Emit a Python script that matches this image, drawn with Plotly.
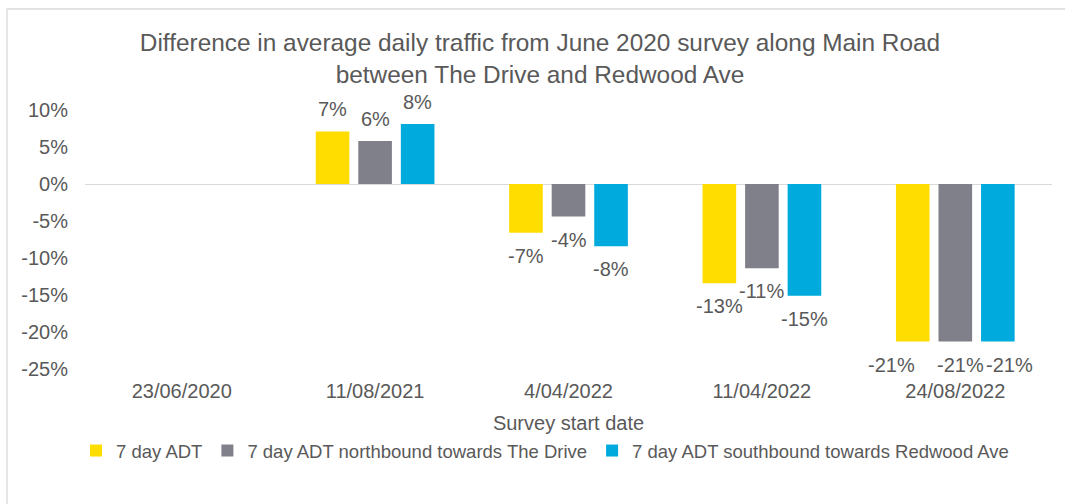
import plotly.graph_objects as go

categories = ["23/06/2020", "11/08/2021", "4/04/2022", "11/04/2022", "24/08/2022"]
series_names = [
    "7 day ADT",
    "7 day ADT northbound towards The Drive",
    "7 day ADT southbound towards Redwood Ave",
]
adt_total = [0, 7.1, -6.6, -13.4, -21.3]
adt_north = [0, 5.8, -4.4, -11.4, -21.3]
adt_south = [0, 8.1, -8.4, -15.1, -21.3]
colors = ["#FFDD00", "#80808A", "#00AADD"]

y_ticks = [10, 5, 0, -5, -10, -15, -20, -25]
y_tick_text = ["10%", "5%", "0%", "-5%", "-10%", "-15%", "-20%", "-25%"]

# label nudges (px) that mimic the reference's de-overlapped data labels
label_nudge = {(0, 4): -21, (1, 4): 5, (2, 4): 12}

FONT = "Liberation Sans, Arial, sans-serif"
TXT = "#595959"
FS = 20

L, R, T, B = 85, 13, 110, 135
W, H = 1065, 504
pw = W - L - R
ph = H - T - B
BARGAP, GROUPGAP = 0.34, 0.21
slot_px = pw / len(categories) * (1 - BARGAP) / 3

fig = go.Figure()
annotations = []
for si, (name, vals, col) in enumerate(zip(series_names, [adt_total, adt_north, adt_south], colors)):
    fig.add_trace(go.Bar(
        x=categories, y=vals, name=name,
        marker=dict(color=col, line=dict(width=0)),
        hoverinfo="x+y",
    ))
    for ci, v in enumerate(vals):
        if v == 0:
            continue
        annotations.append(dict(
            x=categories[ci], y=v, xref="x", yref="y",
            text=f"{round(v):d}%", showarrow=False,
            xanchor="center", yanchor="middle",
            xshift=(si - 1) * slot_px + label_nudge.get((si, ci), 0),
            yshift=22 if v > 0 else -23,
            font=dict(family=FONT, size=FS, color=TXT),
        ))

fig.update_layout(
    width=W, height=H,
    margin=dict(l=L, r=R, t=T, b=B),
    paper_bgcolor="white", plot_bgcolor="white",
    font=dict(family=FONT, size=FS, color=TXT),
    barmode="group", bargap=BARGAP, bargroupgap=GROUPGAP,
    title=dict(
        text="Difference in average daily traffic from June 2020 survey along Main Road<br>between The Drive and Redwood Ave",
        x=540 / W, xanchor="center", y=1 - 51 / H, yanchor="middle",
        font=dict(family=FONT, size=24.4, color=TXT),
    ),
    xaxis=dict(
        showgrid=False, showline=False, ticks="",
        ticklabelstandoff=8,
        title=dict(text="Survey start date", standoff=14, font=dict(size=FS, color=TXT)),
        tickfont=dict(size=FS, color=TXT),
    ),
    yaxis=dict(
        range=[-25, 10], tickvals=y_ticks, ticktext=y_tick_text,
        showgrid=False, showline=False, ticks="",
        zeroline=True, zerolinecolor="#D9D9D9", zerolinewidth=1.3,
        ticklabelstandoff=16,
        tickfont=dict(size=FS, color=TXT),
    ),
    legend=dict(
        orientation="h", x=(545 - L) / pw, xanchor="center",
        y=(ph - (451 - T)) / ph, yanchor="middle",
        font=dict(size=18.5, color=TXT), itemwidth=30,
    ),
    showlegend=True,
    annotations=annotations,
    shapes=[dict(
        type="rect", xref="paper", yref="paper",
        x0=(7 - L) / pw, x1=(1075 - L) / pw,
        y0=(ph - (520 - T)) / ph, y1=(ph - (9 - T)) / ph,
        line=dict(color="#D9D9D9", width=1.3), fillcolor="rgba(0,0,0,0)", layer="below",
    )],
)

fig.write_html("out.html", config={"displayModeBar": False},
               post_script="document.body.style.margin='0';")
